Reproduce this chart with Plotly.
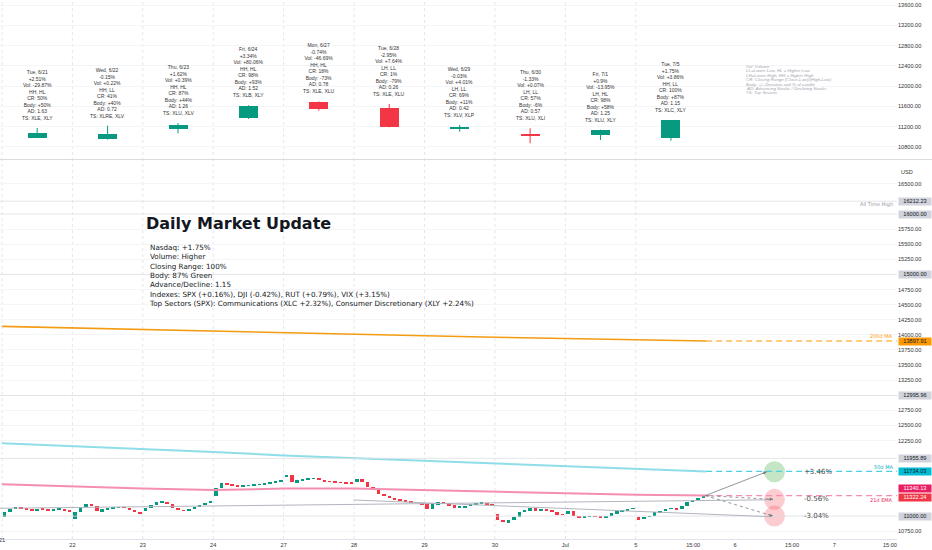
import plotly.graph_objects as go

# plot area (pixels) inside the 932x550 page
PLOT_W, PLOT_H = 897, 539


def px_x(p):
    return p / PLOT_W


def px_y(p):
    return 1 - p / PLOT_H


# ---- daily summary panel (top) ----
day_ticks = ["21", "22", "23", "24", "27", "28", "29", "30", "Jul", "5"]
day_names = ["Tue, 6/21", "Wed, 6/22", "Thu, 6/23", "Fri, 6/24", "Mon, 6/27",
             "Tue, 6/28", "Wed, 6/29", "Thu, 6/30", "Fri, 7/1", "Tue, 7/5"]
day_change = ["+2.51%", "-0.15%", "+1.62%", "+3.34%", "-0.74%",
              "-2.95%", "-0.03%", "-1.33%", "+0.9%", "+1.75%"]
day_vol = ["-29.87%", "+0.22%", "+0.39%", "+80.06%", "-46.69%",
           "+7.64%", "+4.01%", "+0.07%", "-13.95%", "+3.86%"]
day_hl = ["HH, HL", "HH, LL", "HH, HL", "HH, HL", "HH, HL",
          "LH, LL", "LH, LL", "LH, LL", "LH, HL", "HH, LL"]
day_cr = ["50%", "41%", "87%", "98%", "18%", "1%", "69%", "57%", "98%", "100%"]
day_body = ["+50%", "+40%", "+44%", "+93%", "-73%", "-79%", "+11%", "-6%", "+58%", "+87%"]
day_ad = ["1.63", "0.72", "1.26", "1.52", "0.78", "0.26", "0.42", "0.57", "1.25", "1.15"]
day_ts = ["XLE, XLY", "XLRE, XLV", "XLU, XLV", "XLB, XLY", "XLE, XLU",
          "XLE, XLU", "XLV, XLP", "XLU, XLI", "XLU, XLY", "XLC, XLY"]

daily_open = [10983, 10952, 11149, 11366, 11683, 11564, 11160, 11060, 11037, 10983]
daily_high = [11175, 11220, 11274, 11625, 11700, 11649, 11234, 11169, 11140, 11333]
daily_low = [10975, 10945, 11070, 11353, 11517, 11190, 11102, 10873, 10938, 10924]
daily_close = [11082, 11050, 11234, 11616, 11550, 11201, 11180, 11030, 11135, 11333]

# ---- 30 minute bars (bottom) ----
day_open = [10990, 10960, 11100, 11340, 11650, 11560, 11200, 11040, 11030, 10980]
c0621 = [11060, 11110, 11150, 11130, 11110, 11100, 11120, 11110, 11090, 11110, 11120, 11100, 11080]
c0622 = [11060, 11150, 11200, 11160, 11080, 11110, 11130, 11140, 11150, 11140, 11100, 11060, 11050]
c0623 = [11130, 11180, 11230, 11240, 11200, 11140, 11100, 11090, 11110, 11150, 11190, 11220, 11240]
c0624 = [11460, 11550, 11520, 11500, 11490, 11500, 11510, 11520, 11530, 11540, 11560, 11580, 11600]
c0627 = [11680, 11560, 11590, 11610, 11620, 11620, 11600, 11580, 11570, 11560, 11550, 11545, 11540]
c0628 = [11620, 11560, 11480, 11430, 11370, 11330, 11300, 11280, 11260, 11240, 11230, 11220, 11200]
c0629 = [11110, 11200, 11230, 11210, 11180, 11150, 11150, 11170, 11190, 11210, 11220, 11200, 11180]
c0630 = [10940, 10900, 10930, 10990, 11060, 11100, 11130, 11090, 11110, 11100, 11060, 11030, 11020]
c0701 = [11090, 11000, 10970, 10990, 11000, 10990, 10980, 11010, 11050, 11080, 11100, 11120, 11130]
c0705 = [10950, 10990, 11000, 11060, 11080, 11120, 11130, 11110, 11170, 11230, 11270, 11300, 11322]
intraday = [c0621, c0622, c0623, c0624, c0627, c0628, c0629, c0630, c0701, c0705]

# moving averages at each session start + last bar
ma_x = [0, 1, 2, 3, 4, 5, 6, 7, 8, 9, 10.0]
ma200 = [14140, 14112, 14086, 14062, 14036, 14010, 13984, 13960, 13938, 13916, 13898]
ma50 = [12205, 12160, 12110, 12060, 12005, 11960, 11910, 11870, 11830, 11780, 11740]
ema21 = [11526, 11490, 11455, 11432, 11455, 11455, 11430, 11400, 11372, 11352, 11340]

levels = [16212.23, 16000, 15000, 12995.96, 11955.89, 11000]
box_values = [16212.23, 16000.00, 15000.00, 13897.91, 12995.96, 11955.89,
              11734.03, 11340.13, 11322.24, 11000.00]
box_bg = ["#d1d4dc", "#d1d4dc", "#d1d4dc", "#ff9800", "#d1d4dc", "#d1d4dc",
          "#00bcd4", "#e91e63", "#f23645", "#d1d4dc"]
box_fg = ["#131722", "#131722", "#131722", "#131722", "#131722", "#131722",
          "#131722", "white", "white", "#131722"]
box_shift = [0, 0, 0, 0, 0, 0, 0, 7.5, -0.5, 0]

trend_a_x, trend_a_y = [-0.03, 10.92], [11129, 11270]
trend_b_x, trend_b_y = [4.99, 10.92], [11267, 10990]
proj_start = (9.99, 11340)
target_labels = ["+3.46%", "-0.56%", "-3.04%"]
target_values = [11734, 11277, 11000]
target_fill = ["rgba(76,175,80,0.32)", "rgba(242,54,69,0.25)", "rgba(242,54,69,0.25)"]

x_tickvals = list(range(1, 10)) + [9.815, 10.41, 11.22, 11.82, 12.61]
x_ticktext = day_ticks[1:] + ["15:00", "6", "15:00", "7", "15:00"]

GREEN, RED = "#089981", "#f23645"
LOW_RANGE = [10621, 16894]
UNITS_PER_PX = (LOW_RANGE[1] - LOW_RANGE[0]) / (539 - 160)

fig = go.Figure()

# top panel daily candles
for i in range(10):
    col = GREEN if daily_close[i] >= daily_open[i] else RED
    fig.add_trace(go.Scatter(x=[i + 0.5, i + 0.5], y=[daily_low[i], daily_high[i]],
                             mode="lines", line=dict(color=col, width=1),
                             yaxis="y2", hoverinfo="skip"))
fig.add_trace(go.Bar(
    x=[i + 0.5 for i in range(10)],
    base=[min(o, c) for o, c in zip(daily_open, daily_close)],
    y=[max(abs(c - o), 18) for o, c in zip(daily_open, daily_close)],
    width=0.27, yaxis="y2",
    marker=dict(color=[GREEN if c >= o else RED for o, c in zip(daily_open, daily_close)],
                line=dict(width=0))))

# bottom panel intraday candles
bx, bbase, bh, bcol = [], [], [], []
for d, closes in enumerate(intraday):
    prev = day_open[d]
    for k, c in enumerate(closes):
        bx.append(d + (k + 0.5) / 13)
        bbase.append(min(prev, c))
        bh.append(max(abs(c - prev), 8))
        bcol.append(GREEN if c >= prev else RED)
        prev = c
fig.add_trace(go.Bar(x=bx, base=bbase, y=bh, width=0.05,
                     marker=dict(color=bcol, line=dict(width=0))))

# moving averages + dashed extensions
for vals, col, dcol, w in [(ma200, "#f39c12", "#ff9800", 1.6),
                           (ma50, "#8fdde8", "#4dd0e1", 2),
                           (ema21, "#f48fb1", "#f48fb1", 2)]:
    fig.add_trace(go.Scatter(x=ma_x, y=vals, mode="lines", line=dict(color=col, width=w)))
    fig.add_trace(go.Scatter(x=[ma_x[-1], 12.72], y=[vals[-1], vals[-1]], mode="lines",
                             line=dict(color=dcol, width=1.2, dash="6px,4px")))

# horizontal levels
for lv in levels:
    fig.add_trace(go.Scatter(x=[-0.03, 12.72], y=[lv, lv], mode="lines",
                             line=dict(color="#dcdee3", width=0.8)))

# trend lines
fig.add_trace(go.Scatter(x=trend_a_x, y=trend_a_y, mode="lines", line=dict(color="#b2b5be", width=1)))
fig.add_trace(go.Scatter(x=trend_b_x, y=trend_b_y, mode="lines", line=dict(color="#b2b5be", width=1)))

# projections
for j, tv in enumerate(target_values):
    hx = 10.86 if j == 0 else 10.95
    fig.add_trace(go.Scatter(x=[proj_start[0], hx], y=[proj_start[1], tv], mode="lines",
                             line=dict(color="#787b86", width=0.8, dash="solid" if j == 0 else "dot")))
    fig.add_annotation(x=hx, y=tv, ax=hx - 0.1 * (hx - proj_start[0]),
                       ay=tv - 0.1 * (tv - proj_start[1]), axref="x", ayref="y",
                       xref="x", yref="y", showarrow=True, arrowhead=2, arrowsize=0.8,
                       arrowwidth=0.8, arrowcolor="#787b86", text="")
    fig.add_shape(type="circle", xref="x", yref="y", xsizemode="pixel", ysizemode="pixel",
                  xanchor=10.97, yanchor=tv, x0=-10.5, x1=10.5, y0=-10.5, y1=10.5,
                  fillcolor=target_fill[j], line=dict(width=0), layer="below")
    fig.add_annotation(x=11.36, y=tv, xref="x", yref="y", xanchor="left", showarrow=False,
                       text=target_labels[j], font=dict(family="DejaVu Sans", size=7, color="#4a4a4a"))

# vertical session gridlines
for d in range(10):
    fig.add_shape(type="line", xref="x", yref="paper", x0=d, x1=d, y0=0, y1=1,
                  line=dict(color="#e4e6ea", width=1, dash="dot"), layer="below")
fig.add_shape(type="line", xref="paper", yref="paper", x0=0, x1=1.04, y0=px_y(159.5), y1=px_y(159.5),
              line=dict(color="#d9dbe0", width=1))

# daily annotations
for i in range(10):
    txt = "<br>".join([day_names[i], day_change[i], "Vol: " + day_vol[i], day_hl[i],
                       "CR: " + day_cr[i], "Body: " + day_body[i], "AD: " + day_ad[i],
                       "TS: " + day_ts[i]])
    fig.add_annotation(x=i + 0.5, y=daily_high[i], xref="x", yref="y2", yanchor="bottom",
                       yshift=5, showarrow=False, text=txt, align="center",
                       font=dict(family="Liberation Sans", size=5, color="#333333"))

legend_lines = ["Vol: Volume", "LL=Lower Low, HL = Higher Low", "LH=Lower High, HH = Higher High",
                "CR: Closing Range (Close-Low)/(High-Low)", "Body: +/- Direction and % of candle",
                "AD: Advancing Stocks / Declining Stocks", "TS: Top Sectors"]
for k, line in enumerate(legend_lines):
    fig.add_annotation(x=px_x(745), y=px_y(62.7 + 4.45 * k), xref="paper", yref="paper",
                       xanchor="left", showarrow=False, text=line, borderpad=0,
                       font=dict(family="Liberation Sans", size=4.4, color="#a3a6af", style="italic"))

# text block
fig.add_annotation(x=px_x(144), y=px_y(223), xref="paper", yref="paper", xanchor="left",
                   yanchor="middle", showarrow=False, text="<b>Daily Market Update</b>",
                   font=dict(family="DejaVu Sans", size=16, color="#131722"))
info_lines = ["Nasdaq: +1.75%", "Volume: Higher", "Closing Range: 100%", "Body: 87% Green",
              "Advance/Decline: 1.15",
              "Indexes: SPX (+0.16%), DJI (-0.42%), RUT (+0.79%), VIX (+3.15%)",
              "Top Sectors (SPX): Communications (XLC +2.32%), Consumer Discretionary (XLY +2.24%)"]
fig.add_annotation(x=px_x(147), y=px_y(241), xref="paper", yref="paper", xanchor="left",
                   yanchor="top", align="left", showarrow=False, text="<br>".join(info_lines),
                   font=dict(family="DejaVu Sans", size=7.2, color="#131722"))

# line labels
fig.add_annotation(x=px_x(895), y=ma200[-1], xref="paper", yref="y", xanchor="right", yshift=5,
                   showarrow=False, text="200d MA", font=dict(family="DejaVu Sans", size=5, color="#ff9800"))
fig.add_annotation(x=px_x(895), y=ma50[-1], xref="paper", yref="y", xanchor="right", yshift=4,
                   showarrow=False, text="50d MA", font=dict(family="DejaVu Sans", size=5, color="#00acc1"))
fig.add_annotation(x=px_x(895), y=ema21[-1], xref="paper", yref="y", xanchor="right", yshift=-4,
                   showarrow=False, text="21d EMA", font=dict(family="DejaVu Sans", size=5, color="#e91e63"))
fig.add_annotation(x=px_x(895), y=levels[0], xref="paper", yref="y", xanchor="right", yshift=-3.5,
                   showarrow=False, text="All Time High", font=dict(family="DejaVu Sans", size=5, color="#9598a1"))

# price boxes on the scale
for v, bg, fg, sh in zip(box_values, box_bg, box_fg, box_shift):
    fig.add_annotation(x=1, y=v, xref="paper", yref="y", xanchor="left", xshift=1, yshift=sh,
                       showarrow=False, text=f"{v:.2f}", bgcolor=bg, width=32, height=6.5,
                       borderpad=0, font=dict(family="Liberation Sans", size=5.6, color=fg))
fig.add_annotation(x=1, y=px_y(167), xref="paper", yref="paper", xanchor="left", xshift=2,
                   showarrow=False, text="USD", font=dict(family="Liberation Sans", size=5.6, color="#333333"))

tick_font = dict(family="Liberation Sans", size=5.6, color="#333333")
# first session label sits on the left edge, half cut like the reference
fig.add_annotation(x=0, y=px_y(545), xref="x", yref="paper", showarrow=False,
                   text=day_ticks[0], font=tick_font)

# scale labels hidden behind a price box are left out
box_centres = [v + s * UNITS_PER_PX for v, s in zip(box_values, box_shift)]
low_ticks = [v for v in (10750 + 250 * k for k in range(24))
             if min(abs(v - b) for b in box_centres) > 80]
top_ticks = [10800 + 400 * k for k in range(8)]
fig.update_layout(
    width=932, height=550, margin=dict(l=0, r=35, t=0, b=11),
    paper_bgcolor="white", plot_bgcolor="white", showlegend=False,
    barmode="overlay", bargap=0,
    xaxis=dict(range=[-0.028, 12.71], tickvals=x_tickvals, ticktext=x_ticktext,
               showgrid=False, zeroline=False, showline=True, linecolor="#e0e3eb",
               ticks="", tickfont=tick_font),
    yaxis=dict(domain=[0, px_y(160)], range=LOW_RANGE, side="right",
               tickvals=low_ticks, ticktext=[f"{v:.2f}" for v in low_ticks],
               showgrid=True, gridcolor="#f4f5f7", zeroline=False, ticks="", tickfont=tick_font),
    yaxis2=dict(domain=[px_y(159), 1], range=[10562, 13704], side="right", anchor="x",
                tickvals=top_ticks, ticktext=[f"{v:.2f}" for v in top_ticks],
                showgrid=True, gridcolor="#f4f5f7", zeroline=False, ticks="", tickfont=tick_font),
)

# page body has a default 8px margin; remove it so the chart fills the window
fig.write_html("out.html", config={"displayModeBar": False},
               post_script="document.body.style.margin='0';")
